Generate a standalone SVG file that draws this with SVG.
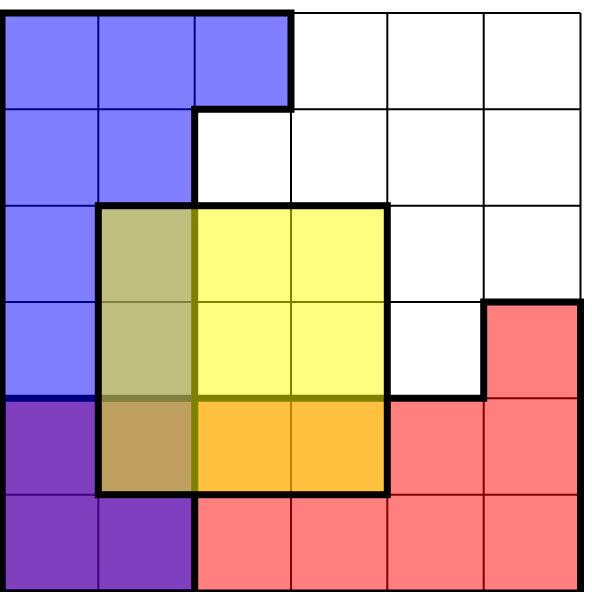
<svg xmlns="http://www.w3.org/2000/svg" width="592" height="592" viewBox="0 0 592 592">
  <style>
    .grid line { stroke: #000; stroke-width: 2; }
    .fill { stroke: none; fill-opacity: 0.5; }
    .outline { fill: none; stroke: #000; stroke-width: 7; stroke-linejoin: miter; }
  </style>
  <rect x="0" y="0" width="592" height="592" fill="#fff"/>
  <g id="grid" class="grid">
    <line x1="2" y1="13" x2="2" y2="593"/>
    <line x1="98.3" y1="13" x2="98.3" y2="593"/>
    <line x1="194.7" y1="13" x2="194.7" y2="593"/>
    <line x1="291" y1="13" x2="291" y2="593"/>
    <line x1="387.3" y1="13" x2="387.3" y2="593"/>
    <line x1="483.7" y1="13" x2="483.7" y2="593"/>
    <line x1="580.5" y1="13" x2="580.5" y2="593"/>
    <line x1="2" y1="13" x2="580.5" y2="13"/>
    <line x1="2" y1="109.3" x2="580.5" y2="109.3"/>
    <line x1="2" y1="205.7" x2="580.5" y2="205.7"/>
    <line x1="2" y1="302" x2="580.5" y2="302"/>
    <line x1="2" y1="398.3" x2="580.5" y2="398.3"/>
    <line x1="2" y1="494.7" x2="580.5" y2="494.7"/>
    <line x1="2" y1="593" x2="580.5" y2="593"/>
  </g>
  <g id="red-region">
    <polygon class="fill" fill="#ff0000" points="2,398.3 483.7,398.3 483.7,302 580.5,302 580.5,593 2,593"/>
    <polygon class="outline" points="2,398.3 483.7,398.3 483.7,302 580.5,302 580.5,593 2,593"/>
  </g>
  <g id="blue-region">
    <polygon class="fill" fill="#0000ff" points="2,13 291,13 291,109.3 194.7,109.3 194.7,593 2,593"/>
    <polygon class="outline" points="2,13 291,13 291,109.3 194.7,109.3 194.7,593 2,593"/>
  </g>
  <g id="yellow-region">
    <rect class="fill" fill="#ffff00" x="98.3" y="205.7" width="289" height="289"/>
    <rect class="outline" x="98.3" y="205.7" width="289" height="289"/>
  </g>
</svg>
